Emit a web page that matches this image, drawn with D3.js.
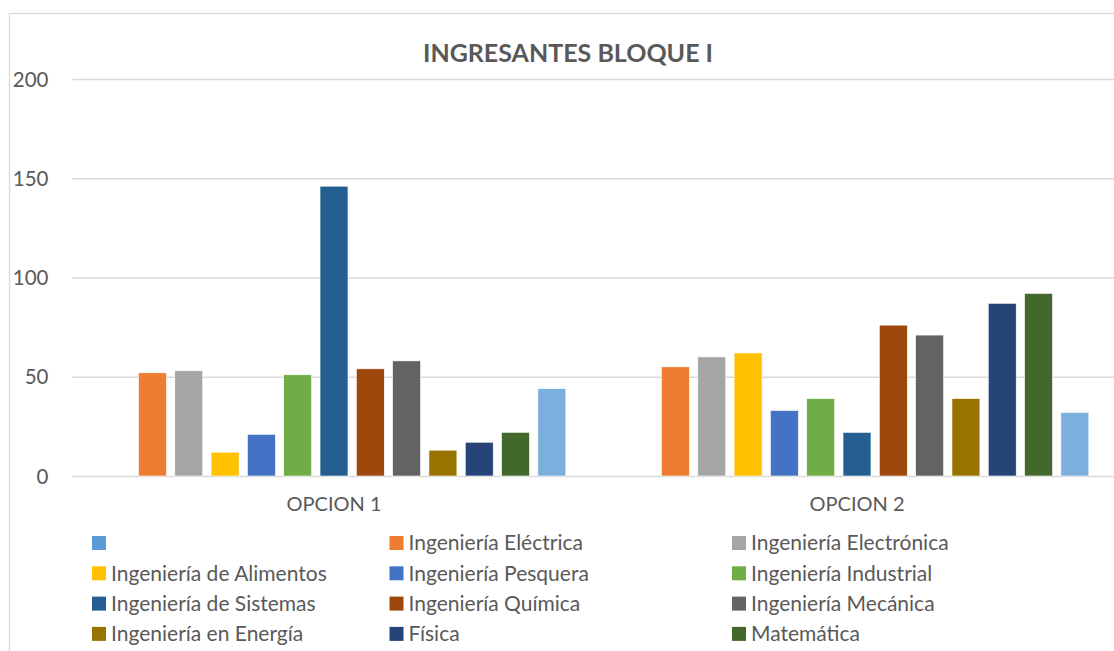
<!DOCTYPE html>
<html>
<head>
<meta charset="utf-8">
<script src="https://cdn.jsdelivr.net/npm/d3@7"></script>
<style>
	body { margin: 0; background: #fff; }
	svg { display: block; font-family: Lato, 'Noto Sans', sans-serif; }
	svg g.yAxis, svg g.xAxis { font-family: Lato, 'Noto Sans', sans-serif; }
	.yAxis text, .xAxis text { fill: #595959; }
	.legend text { fill: #595959; }
</style>
</head>
<body>
<div id="chart"></div>
<script>
var categories = ['OPCION 1', 'OPCION 2'];
var seriesNames = [
	'',
	'Ingeniería Eléctrica',
	'Ingeniería Electrónica',
	'Ingeniería de Alimentos',
	'Ingeniería Pesquera',
	'Ingeniería Industrial',
	'Ingeniería de Sistemas',
	'Ingeniería Química',
	'Ingeniería Mecánica',
	'Ingeniería en Energía',
	'Física',
	'Matemática',
	'Serie 13'
];
// values per series: [OPCION 1, OPCION 2]; first series has no value
var opcion1 = [null, 52, 53, 12, 21, 51, 146, 54, 58, 13, 17, 22, 44];
var opcion2 = [null, 55, 60, 62, 33, 39, 22, 76, 71, 39, 87, 92, 32];
var yTicks = [0, 50, 100, 150, 200];
var colors = ['#5B9BD5', '#ED7D31', '#A5A5A5', '#FFC000', '#4472C4', '#70AD47',
	'#255E91', '#9E480E', '#636363', '#997300', '#264478', '#43682B', '#7CAFDD'];
// legend rows that fit in the picture (the 13th entry falls below the bottom edge)
var legendShown = 12;

var W = 1114, H = 651;
var plot = { left: 72.5, right: 1118.5, top: 79, bottom: 476 };

var svg = d3.select('#chart').append('svg')
	.attr('width', W)
	.attr('height', H);

// chart area border
svg.append('rect')
	.attr('x', 9.5).attr('y', 13.5)
	.attr('width', 1130).attr('height', 700)
	.attr('fill', 'none')
	.attr('stroke', '#D9D9D9')
	.attr('stroke-width', 1.3);

svg.append('text')
	.text('INGRESANTES BLOQUE I')
	.attr('x', 568)
	.attr('y', 62)
	.attr('text-anchor', 'middle')
	.style('font-size', '25px')
	.style('font-weight', 'bold')
	.style('fill', '#595959');

var x0 = d3.scaleBand()
	.domain(categories)
	.range([plot.left, plot.right]);
var x1 = d3.scaleBand()
	.domain(d3.range(seriesNames.length))
	.range([(x0.bandwidth() - 472) / 2, (x0.bandwidth() + 472) / 2])
	.paddingInner(0.23)
	.paddingOuter(0.115);
var y = d3.scaleLinear()
	.domain([0, 200])
	.range([plot.bottom, plot.top]);

// gridlines + labels
var yAxis = d3.axisLeft(y).tickValues(yTicks).tickSize(-(plot.right - plot.left)).tickPadding(24);
svg.append('g')
	.classed('yAxis', true)
	.attr('transform', 'translate(' + plot.left + ',0)')
	.call(function (g) {
		g.call(yAxis);
		g.attr('font-family', null);
		g.select('.domain').remove();
		g.selectAll('.tick line').attr('stroke', '#D9D9D9').attr('stroke-width', 1.5);
		g.selectAll('.tick text').style('font-size', '20.5px').attr('x', -24).attr('dy', '0.35em');
	});

var table = categories.map(function (c, ci) {
	var vals = ci === 0 ? opcion1 : opcion2;
	return { key: c, values: vals.map(function (v, si) { return { s: si, v: v }; }) };
});

var groups = svg.append('g').classed('bargroup', true)
	.selectAll('g')
	.data(table)
	.enter()
	.append('g')
	.attr('transform', function (d) { return 'translate(' + x0(d.key) + ',0)'; });

groups.selectAll('rect')
	.data(function (d) { return d.values.filter(function (e) { return e.v !== null; }); })
	.enter()
	.append('rect')
	.attr('x', function (d) { return x1(d.s); })
	.attr('width', x1.bandwidth())
	.attr('y', function (d) { return y(d.v); })
	.attr('height', function (d) { return y(0) - y(d.v); })
	.attr('fill', function (d) { return colors[d.s]; })
	.attr('stroke', '#fff')
	.attr('stroke-width', 0.6);

var xAxis = d3.axisBottom(x0).tickSize(0).tickPadding(21);
svg.append('g')
	.classed('xAxis', true)
	.attr('transform', 'translate(0,' + plot.bottom + ')')
	.call(function (g) {
		g.call(xAxis);
		g.attr('font-family', null);
		g.select('.domain').remove();
		g.selectAll('.tick text').style('font-size', '20px');
	});

// legend, 3 columns
var colX = [92, 389.5, 732];
var legend = svg.append('g').classed('legend', true)
	.selectAll('g')
	.data(seriesNames.slice(0, legendShown))
	.enter()
	.append('g')
	.attr('transform', function (d, i) {
		return 'translate(' + colX[i % 3] + ',' + (543 + Math.floor(i / 3) * 30.3) + ')';
	});
legend.append('rect')
	.attr('x', 0).attr('y', -7)
	.attr('width', 14).attr('height', 14)
	.attr('fill', function (d, i) { return colors[i]; });
legend.append('text')
	.text(function (d) { return d; })
	.attr('x', 19)
	.attr('dy', '0.35em')
	.style('font-size', '21px');
</script>
</body>
</html>
